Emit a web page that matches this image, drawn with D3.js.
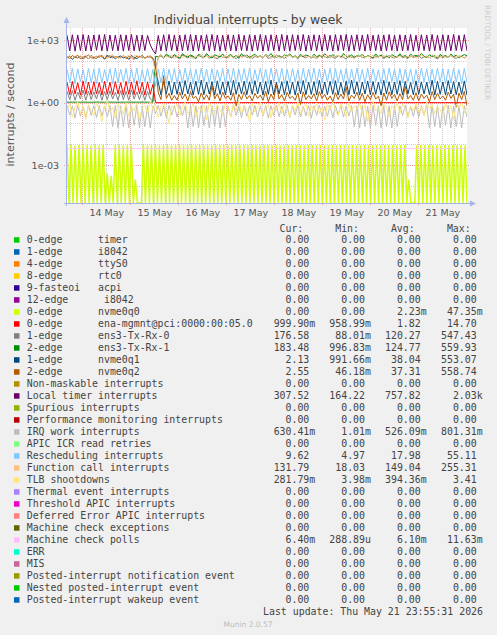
<!DOCTYPE html>
<html><head><meta charset="utf-8">
<script src="https://cdn.jsdelivr.net/npm/d3@7"></script>
<style>
html,body{margin:0;padding:0;background:#f0f0f0;}
svg{display:block;}
text{font-family:"DejaVu Sans",sans-serif;}
.mono{font-family:"DejaVu Sans Mono",monospace;white-space:pre;}
</style></head><body>
<svg id="c" width="497" height="635"></svg>
<script>
// ---------- DATA ----------
const labels = ["0-edge      timer","1-edge      i8042","4-edge      ttyS0","8-edge      rtc0","9-fasteoi   acpi","12-edge      i8042","0-edge      nvme0q0","0-edge      ena-mgmnt@pci:0000:00:05.0","1-edge      ens3-Tx-Rx-0","2-edge      ens3-Tx-Rx-1","1-edge      nvme0q1","2-edge      nvme0q2","Non-maskable interrupts","Local timer interrupts","Spurious interrupts","Performance monitoring interrupts","IRQ work interrupts","APIC ICR read retries","Rescheduling interrupts","Function call interrupts","TLB shootdowns","Thermal event interrupts","Threshold APIC interrupts","Deferred Error APIC interrupts","Machine check exceptions","Machine check polls","ERR","MIS","Posted-interrupt notification event","Nested posted-interrupt event","Posted-interrupt wakeup event"];
const colors = ["#00CC00","#0066B3","#FF8000","#FFCC00","#330099","#990099","#CCFF00","#FF0000","#808080","#008F00","#00487D","#B35A00","#B38F00","#6B006B","#8FB300","#B30000","#BEBEBE","#80FF80","#80C9FF","#FFC080","#FFE680","#AA80FF","#EE00CC","#FF8080","#666600","#FFBFFF","#00FFCC","#CC6699","#999900","#00CC00","#0066B3"];
const curVals = ["0.00","0.00","0.00","0.00","0.00","0.00","0.00","999.90m","176.58","183.48","2.13","2.55","0.00","307.52","0.00","0.00","630.41m","0.00","9.62","131.79","281.79m","0.00","0.00","0.00","0.00","6.40m","0.00","0.00","0.00","0.00","0.00"];
const minVals = ["0.00","0.00","0.00","0.00","0.00","0.00","0.00","958.99m","88.01m","996.83m","991.66m","46.18m","0.00","164.22","0.00","0.00","1.01m","0.00","4.97","18.03","3.98m","0.00","0.00","0.00","0.00","288.89u","0.00","0.00","0.00","0.00","0.00"];
const avgVals = ["0.00","0.00","0.00","0.00","0.00","0.00","2.23m","1.82","120.27","124.77","38.04","37.31","0.00","757.82","0.00","0.00","526.09m","0.00","17.98","149.04","394.36m","0.00","0.00","0.00","0.00","6.10m","0.00","0.00","0.00","0.00","0.00"];
const maxVals = ["0.00","0.00","0.00","0.00","0.00","0.00","47.35m","14.70","547.43","559.93","553.07","558.74","0.00","2.03k","0.00","0.00","801.31m","0.00","55.11","255.31","3.41","0.00","0.00","0.00","0.00","11.63m","0.00","0.00","0.00","0.00","0.00"];
const dayLabels = ["14 May","15 May","16 May","17 May","18 May","19 May","20 May","21 May"];
const yTickValues = [1e-3, 1e0, 1e3];
const yTickLabels = ["1e-03","1e+00","1e+03"];

// series values, evenly spaced over the week window
const nvme0q0 = [
.0088,0,.0091,0,.0086,0,.0090,0,.0087,0,
.0089,0,.0085,0,.0092,0,.0087,0,.0090,0,
.0004,0,.0003,0,.0088,0,.0091,0,.0086,0,
.0089,0,.0087,0,.0002,0,0,0,.0090,0,
.0086,0,.0089,0,.0092,0,.0087,0,.0088,0,
.0090,0,.0085,0,.0089,0,.0091,0,.0087,0,
.0088,0,.0092,0,.0086,0,.0090,0,.0087,0,
.0089,0,.0086,0,.0091,0,.0088,0,.0090,0,
.0087,0,.0092,0,.0085,0,.0089,0,.0091,0,
.0086,0,.0090,0,.0088,0,.0087,0,.0092,0,
.0089,0,.0085,0,.0091,0,.0088,0,.0086,0,
.0090,0,.0087,0,.0092,0,.0089,0,.0085,0,
.0091,0,.0088,0,.0086,0,.0090,0,.0087,0,
.0089,0,.0092,0,.0085,0,.0091,0,.0088,0,
.0086,0,.0090,0,.0087,0,.0089,0,.0092,0,
.0088,0,.0085,0,.0091,0,.0087,0,.0090,0,
.0089,0,.0092,0,.0086,0,.0088,0,.0091,0,
.0002,0,0,0,.0087,0,.0090,0,.0088,0,
.0092,0,.0086,0,.0089,0,.0087,0,.0091,0,
.0088,0,.0090,0,.0085,0,.0089,0,.0087,0];
const ena = [
9.5,2.4,10.5,2.6,9.0,2.3,11,2.5,9.8,2.4,
10.2,2.6,9.4,2.3,10.8,2.5,9.6,2.4,10.4,2.6,
9.2,2.3,10.6,2.5,9.9,2.4,11.2,2.6,9.5,2.3,
10.1,2.5,7.5,1.0,1.0,1.0,1.0,1.0,1.0,1.0,
1.0,1.0,1.0,1.0,1.0,1.0,1.0,1.0,1.0,1.0,
1.0,1.0,1.0,1.0,1.0,1.0,1.0,1.0,1.0,1.0,
1.0,1.0,1.0,1.0,1.0,1.0,1.0,1.0,1.0,1.0,
1.0,1.0,1.0,1.0,1.0,1.0,1.0,1.0,1.0,1.0,
1.0,1.0,1.0,1.0,1.0,1.0,1.0,1.0,1.0,1.0,
1.0,1.0,1.0,1.0,1.0,1.0,1.0,1.0,1.0,1.0,
1.0,1.0,1.0,1.0,1.0,1.0,1.0,1.0,1.0,1.0,
1.0,1.0,1.0,1.0,1.0,1.0,1.0,1.0,1.0,1.0,
1.0,1.0,1.0,1.0,1.0,1.0,1.0,1.0,1.0,1.0,
1.0,1.0,1.0,1.0,1.0,1.0,1.0,1.0,1.0,1.0,
1.0,1.0,1.0,1.0,1.0,1.0,1.0,1.0,1.0,1.0];
const txrx0 = [
3.5,1.4,3.8,1.3,3.2,1.5,4.0,1.3,3.6,1.4,
3.3,1.5,3.9,1.3,3.4,1.4,3.7,1.5,3.1,1.3,
3.8,1.4,3.5,1.3,4.1,1.5,3.3,1.4,3.6,1.3,
3.4,1.5,1.2,40,150,175,135,190,160,140,
180,150,125,195,165,140,175,155,130,185,
160,145,190,135,170,155,125,180,150,165,
140,185,155,130,175,160,195,145,170,135,
165,150,180,140,190,130,160,175,145,185,
155,135,170,190,150,165,125,180,160,140,
175,145,160,130,185,155,170,140,195,150,
135,180,165,150,125,190,145,170,160,175,
150,140,185,160,135,175,155,195,130,165,
180,155,140,170,190,145,160,130,175,150,
165,185,135,155,170,140,190,150,125,180,
145,170,160,185,150,135,175,165,140,175];
const txrx1 = [
1.05,1.05,1.06,1.05,1.05,1.05,1.06,1.05,1.05,1.05,
1.05,1.06,1.05,1.05,1.05,1.05,1.06,1.05,1.05,1.05,
1.05,1.05,1.05,1.06,1.05,1.05,1.05,1.05,1.06,1.05,
1.05,1.06,1.05,170,160,200,145,215,175,150,
205,165,140,225,180,155,195,170,135,210,
185,150,230,165,140,200,175,155,220,145,
170,210,150,185,135,225,160,195,145,180,
215,155,175,140,205,165,230,150,190,160,
145,200,170,220,155,180,140,210,165,195,
175,140,215,160,190,150,225,170,145,205,
160,190,145,230,170,155,200,140,185,165,
210,150,180,165,140,220,160,195,150,175,
140,205,170,150,225,160,185,145,215,170,
190,155,230,170,145,200,165,180,140,210,
165,185,150,220,160,195,140,175,205,180];
const nvme0q1 = [
140,175,120,160,190,130,155,170,125,185,
150,135,180,160,125,195,145,170,130,160,
175,140,165,120,185,150,130,170,155,140,
165,150,130,40,9.5,2.4,10.5,2.6,11,2.3,
9.8,2.5,10.2,2.4,11.5,2.6,9.4,2.3,10.8,2.5,
12,2.4,9.6,2.6,10.4,2.3,11.2,2.5,9.9,2.4,
10.6,2.3,11.8,2.5,9.3,2.6,10.9,2.4,10.1,2.5,
11.4,2.6,9.7,2.3,10.5,2.5,12.2,2.4,9.5,2.6,
10.3,2.4,11.1,2.5,9.8,2.3,10.7,2.6,11.6,2.4,
9.6,2.5,10.4,2.3,11.9,2.6,9.9,2.4,10.6,2.5,
11.3,2.3,9.4,2.5,10.8,2.4,12.1,2.6,10.2,2.3,
9.7,2.6,11.0,2.4,10.5,2.5,9.5,2.3,11.7,2.6,
10.1,2.4,9.8,2.5,11.4,2.3,10.6,2.6,9.3,2.4,
11.2,2.5,10.0,2.6,9.6,2.4,12.0,2.3,10.7,2.5,
9.9,2.3,11.5,2.6,10.3,2.4,9.7,2.5,11.1,2.3];
const nvme0q2 = [
165,130,185,150,140,175,125,160,195,145,
135,170,150,190,125,160,180,140,165,150,
145,185,130,165,155,120,175,150,190,135,
160,175,140,60,3.0,1.4,20,1.6,2.8,1.3,
2.2,1.3,3.1,1.5,2.6,1.2,3.4,1.6,2.0,1.1,
2.9,1.4,2.4,1.3,6.5,1.5,2.7,1.2,3.2,1.6,
2.1,1.3,3.0,0.7,2.5,1.4,3.3,1.5,2.2,1.2,
2.8,1.6,2.3,1.3,3.5,1.1,2.6,1.4,7.0,1.5,
2.4,1.2,3.1,1.6,2.0,1.3,2.9,0.8,3.3,1.4,
2.2,1.5,2.7,1.2,3.4,1.6,2.5,1.3,2.1,1.1,
3.0,1.4,2.6,1.5,5.5,1.2,2.3,1.6,3.2,1.3,
2.8,1.1,2.4,1.4,3.1,1.5,2.0,0.7,2.9,1.3,
3.3,1.6,2.5,1.2,2.7,1.4,6.0,1.5,2.2,1.3,
3.0,1.2,2.6,1.6,2.3,1.1,3.4,1.4,2.8,1.5,
2.1,1.3,3.2,1.6,2.5,0.6,2.9,1.4,3.5,0.7];
const localTimer = [
1750,310,1850,300,1800,320,1900,305,1750,300,
1800,330,1850,310,1900,300,1800,320,1750,310,
1850,300,1800,320,1900,310,1750,300,1800,320,
1700,600,330,220,1700,310,1850,300,1900,320,
1800,300,1750,310,1850,320,1900,300,1800,310,
1750,320,1850,300,1900,310,1800,300,1750,320,
1850,310,1800,300,1900,320,1750,310,1850,300,
1800,320,1900,300,1750,310,1850,320,1800,300,
1900,310,1750,300,1850,320,1800,310,1900,300,
1750,320,1850,310,1800,300,1900,320,1750,300,
1850,310,1800,320,1900,300,1750,310,1850,320,
1800,300,1900,310,1750,320,1850,300,1800,310,
1900,320,1750,300,1850,310,1800,320,1900,300,
1750,310,1850,320,1800,300,1900,310,1750,320,
1850,300,1800,310,1900,320,1750,300,1850,310];
const irqWork = [
.72,.25,.70,.18,.75,.22,.68,.20,.73,.24,
.70,.19,.74,.23,.69,.21,.72,.07,.75,.06,
.70,.07,.73,.06,.71,.08,.74,.06,.69,.07,
.72,.06,.70,.30,.73,.22,.68,.19,.74,.25,
.71,.20,.75,.23,.69,.06,.72,.07,.70,.06,
.74,.08,.71,.06,.73,.07,.69,.06,.72,.07,
.70,.21,.75,.24,.68,.19,.73,.22,.71,.25,
.74,.20,.69,.23,.72,.18,.70,.24,.75,.21,
.68,.22,.73,.19,.71,.25,.74,.20,.69,.23,
.72,.18,.70,.24,.75,.21,.68,.22,.73,.19,
.71,.25,.74,.20,.69,.23,.72,.07,.70,.06,
.75,.07,.68,.06,.73,.08,.71,.06,.74,.07,
.69,.06,.72,.07,.70,.24,.75,.21,.68,.22,
.73,.19,.71,.25,.74,.06,.69,.07,.72,.06,
.70,.08,.75,.06,.68,.07,.73,.06,.71,.20];
const rescheduling = [
40,9,45,8,42,10,38,8,44,9,
41,8,46,9,39,10,43,8,45,9,
40,10,44,8,42,9,46,8,38,10,
43,9,40,6,42,9,45,8,41,10,
44,8,39,9,46,10,42,8,40,9,
45,10,41,8,43,9,38,10,44,8,
42,9,46,8,40,10,43,9,45,8,
39,10,44,9,41,8,46,10,42,9,
45,8,40,9,43,10,38,8,44,9,
41,10,46,8,42,9,40,10,45,8,
43,9,39,10,44,8,41,9,46,10,
40,8,45,9,42,10,38,8,43,9,
46,10,41,8,44,9,40,10,42,8,
39,9,45,10,43,8,41,9,46,10,
42,8,40,9,44,10,39,8,45,9];
const functionCall = [
150,185,130,170,200,140,160,190,125,175,
165,140,195,150,180,130,170,205,145,160,
135,180,155,195,140,170,190,150,165,130,
185,150,120,25,160,190,140,175,150,200,
130,165,185,145,175,200,150,135,180,160,
195,140,170,155,185,130,160,205,145,175,
150,190,135,170,200,145,165,180,130,160,
185,150,175,140,195,160,130,170,190,150,
140,180,160,200,145,175,135,165,195,155,
170,145,190,130,160,185,150,200,140,175,
155,195,140,170,185,150,165,130,180,160,
190,140,175,155,200,135,170,160,185,145,
160,185,130,175,150,195,145,170,155,190,
135,170,190,150,165,140,200,160,175,145,
180,150,165,195,140,175,155,185,130,170];
const tlb = [
.45,.9,.2,.6,1.1,.3,.7,.15,.8,.4,
.25,.95,.5,.12,.7,1.3,.35,.6,.18,.85,
.5,.3,1.0,.22,.65,.4,.9,.14,.55,.75,
.3,1.2,.45,.8,.2,.6,.95,.35,.1,.7,
.5,.85,.25,.6,1.1,.3,.45,.9,.2,.65,
.4,.75,.15,1.0,.55,.3,.8,.45,.25,.95,
.6,.2,.85,.4,1.2,.3,.7,.5,.12,.9,
.35,.65,1.05,.25,.55,.8,.18,.7,.45,1.0,
.3,.9,.5,.2,.75,.4,1.15,.28,.6,.85,
.22,.7,.45,.95,.3,.6,.15,.8,.5,1.1,
.4,.25,.85,.55,.2,1.0,.35,.7,.48,.9,
.28,.8,.12,.65,1.2,.4,.55,.3,.95,.6,
.2,.75,.45,1.05,.3,.85,.5,.18,.7,.4,
.9,.35,.6,.22,1.15,.5,.8,.3,.65,.45,
.25,.95,.4,.7,.15,.85,.55,1.0,.32,.6];
const mcPolls = [
.0061,.0060,.0062,.0059,.0061,.0063,.0060,.0061,.0062,.0060,
.0059,.0061,.0062,.0060,.0063,.0061,.0060,.0059,.0062,.0061,
.0060,.0062,.0061,.0059,.0060,.0062,.0063,.0061,.0060,.0061,
.0062,.0060,.0061,.0059,.0062,.0061,.0060,.0063,.0061,.0060,
.0061,.0062,.0060,.0061,.0059,.0062,.0061,.0060,.0063,.0061,
.0060,.0061,.0062,.0060,.0061,.0059,.0062,.0061,.0060,.0062,
.0063,.0061,.0060,.0062,.0061,.0059,.0060,.0062,.0061,.0060,
.0061,.0060,.0063,.0061,.0062,.0060,.0059,.0061,.0062,.0061,
.0060,.0062,.0061,.0060,.0063,.0061,.0062,.0059,.0060,.0061,
.0062,.0061,.0060,.0062,.0061,.0063,.0060,.0061,.0059,.0062,
.0061,.0060,.0062,.0061,.0060,.0062,.0063,.0060,.0061,.0059,
.0060,.0062,.0061,.0059,.0062,.0060,.0061,.0063,.0060,.0061,
.0062,.0060,.0059,.0061,.0062,.0061,.0060,.0062,.0061,.0063,
.0061,.0062,.0060,.0063,.0061,.0060,.0062,.0059,.0061,.0060,
.0060,.0061,.0062,.0060,.0059,.0061,.0063,.0062,.0061,.0064];

const plotted = [
  {idx:6, values:nvme0q0},
  {idx:7, values:ena},
  {idx:8, values:txrx0},
  {idx:9, values:txrx1},
  {idx:10, values:nvme0q1},
  {idx:11, values:nvme0q2},
  {idx:13, values:localTimer},
  {idx:16, values:irqWork},
  {idx:18, values:rescheduling},
  {idx:19, values:functionCall},
  {idx:20, values:tlb},
  {idx:25, values:mcPolls}
];

// ---------- LAYOUT ----------
const svg = d3.select("#c");
const X0 = 67, X1 = 467, Y0 = 28, Y1 = 203;
const tStart = Date.UTC(2026,4,13,16,20);
const tEnd = tStart + 200*3600e3;
const x = d3.scaleUtc().domain([new Date(tStart), new Date(tEnd)]).range([X0, X1]);
const yMin = Math.pow(10,-4.83), yMax = Math.pow(10,3.59);
const y = d3.scaleLog().domain([yMin, yMax]).range([Y1, Y0]);

svg.append("rect").attr("x",0).attr("y",0).attr("width",497).attr("height",635).attr("fill","#f0f0f0");
svg.append("rect").attr("x",X0).attr("y",Y0).attr("width",X1-X0).attr("height",Y1-Y0).attr("fill","#ffffff");

// grid (minor first, then major)
const grid = svg.append("g").attr("shape-rendering","crispEdges");
const hours6 = d3.utcHour.every(6).range(new Date(tStart), new Date(tEnd)).filter(d => x(d) < X1 - 1.5);
const minorX = hours6.filter(d => d.getUTCHours() !== 0);
const majorX = hours6.filter(d => d.getUTCHours() === 0);
grid.selectAll("line.minx").data(minorX).join("line").attr("class","minx")
  .attr("x1", d => Math.round(x(d))+0.5).attr("x2", d => Math.round(x(d))+0.5)
  .attr("y1", Y0).attr("y2", Y1)
  .attr("stroke", "#cfcfcf").attr("stroke-width",1).attr("stroke-dasharray","1,1");
const decades = d3.range(-4, 4).map(e => Math.pow(10, e));
const isMajorY = v => yTickValues.some(t => Math.abs(Math.log10(t) - Math.log10(v)) < 1e-6);
grid.selectAll("line.miny").data(decades.filter(v => !isMajorY(v))).join("line").attr("class","miny")
  .attr("x1", X0).attr("x2", X1).attr("y1", d => Math.round(y(d))+0.5).attr("y2", d => Math.round(y(d))+0.5)
  .attr("stroke", "#cfcfcf").attr("stroke-width",1).attr("stroke-dasharray","1,1");
grid.selectAll("line.majx").data(majorX).join("line").attr("class","majx")
  .attr("x1", d => Math.round(x(d))+0.5).attr("x2", d => Math.round(x(d))+0.5)
  .attr("y1", Y0).attr("y2", Y1+3)
  .attr("stroke", "#f4a0a0").attr("stroke-width",1).attr("stroke-dasharray","1,1");
grid.selectAll("line.majy").data(decades.filter(isMajorY)).join("line").attr("class","majy")
  .attr("x1", X0-3).attr("x2", X1+2).attr("y1", d => Math.round(y(d))+0.5).attr("y2", d => Math.round(y(d))+0.5)
  .attr("stroke", "#f4a0a0").attr("stroke-width",1).attr("stroke-dasharray","1,1");

// series
svg.append("clipPath").attr("id","clip").append("rect").attr("x",X0).attr("y",Y0-1).attr("width",X1-X0).attr("height",Y1-Y0+1);
const lines = svg.append("g").attr("clip-path","url(#clip)");
plotted.forEach(s => {
  const n = s.values.length;
  const pts = s.values.map((v,i) => [new Date(tStart + i*(tEnd-tStart)/(n-1)), v]);
  const line = d3.line().x(d => x(d[0])).y(d => y(d[1] > yMin ? d[1] : yMin));
  lines.append("path").attr("d", line(pts)).attr("fill","none")
    .attr("stroke", colors[s.idx]).attr("stroke-width", s.idx === 6 ? 1.5 : 1);
});

// axes
const axisCol = "#a4b4ea";
svg.append("line").attr("x1",X0-0.5).attr("x2",X0-0.5).attr("y1",Y1+3).attr("y2",Y0-6).attr("stroke",axisCol).attr("shape-rendering","crispEdges");
svg.append("line").attr("x1",X0-3).attr("x2",X1+4).attr("y1",Y1+0.5).attr("y2",Y1+0.5).attr("stroke",axisCol).attr("shape-rendering","crispEdges");
svg.append("path").attr("d",`M${X0-3.5},${Y0-5} L${X0+2.5},${Y0-5} L${X0-0.5},${Y0-11} Z`).attr("fill",axisCol);
svg.append("path").attr("d",`M${X1+3},${Y1-2.5} L${X1+3},${Y1+3.5} L${X1+9},${Y1+0.5} Z`).attr("fill",axisCol);

const yAxis = d3.axisLeft(y).tickValues(yTickValues).tickSize(0).tickPadding(8)
  .tickFormat((d,i) => yTickLabels[i]);
const gy = svg.append("g").attr("transform",`translate(${X0},0)`).call(yAxis);
gy.select(".domain").remove();
gy.selectAll("text").attr("font-family","DejaVu Sans").attr("font-size","9.5px").attr("fill","#555");

const dayNoons = d3.utcDay.range(new Date(tStart), new Date(tEnd)).map(d => new Date(+d + 12*3600e3)).filter(d => +d < tEnd);
const xAxis = d3.axisBottom(x).tickValues(dayNoons).tickSize(0).tickPadding(6.5)
  .tickFormat((d,i) => dayLabels[i]);
const gx = svg.append("g").attr("transform",`translate(0,${Y1})`).call(xAxis);
gx.select(".domain").remove();
gx.selectAll("text").attr("font-family","DejaVu Sans").attr("font-size","9.5px").attr("fill","#555");

// titles
svg.append("text").attr("x",248).attr("y",23.5).attr("text-anchor","middle")
  .attr("font-size","12.4px").attr("fill","#444").text("Individual interrupts - by week");
svg.append("text").attr("transform","translate(10.5,114.5) rotate(-90)").attr("text-anchor","middle")
  .attr("dominant-baseline","central").attr("font-size","11px").attr("fill","#555").text("interrupts / second");
svg.append("text").attr("transform","translate(485,5) rotate(90)").attr("text-anchor","start")
  .attr("font-size","7.4px").attr("fill","#cccccc").text("RRDTOOL / TOBI OETIKER");

// legend
const FS = "9.9px";
const colEnds = [309.3, 365, 420.7, 476.7];
const headers = ["Cur:","Min:","Avg:","Max:"];
headers.forEach((h,i) => {
  svg.append("text").attr("class","mono").attr("x",colEnds[i]-6).attr("y",231.5)
    .attr("text-anchor","end").attr("font-size",FS).attr("fill","#444").text(h);
});
const cols = [curVals, minVals, avgVals, maxVals];
labels.forEach((lab,i) => {
  const base = 242.7 + 12*i;
  svg.append("rect").attr("x",14).attr("y",base-5.5).attr("width",5.5).attr("height",5.5).attr("fill",colors[i]);
  svg.append("text").attr("class","mono").attr("x",26.7).attr("y",base)
    .attr("font-size",FS).attr("fill","#444").text(lab);
  cols.forEach((arr,c) => {
    const s = arr[i];
    const m = s.match(/^([0-9.]+)([a-zA-Z]?)$/);
    svg.append("text").attr("class","mono").attr("x",colEnds[c]).attr("y",base)
      .attr("text-anchor","end").attr("font-size",FS).attr("fill","#444").text(m[1]);
    if (m[2]) svg.append("text").attr("class","mono").attr("x",colEnds[c]).attr("y",base)
      .attr("font-size",FS).attr("fill","#444").text(m[2]);
  });
});
svg.append("text").attr("class","mono").attr("x",483).attr("y",615.2).attr("text-anchor","end")
  .attr("font-size",FS).attr("fill","#444").text("Last update: Thu May 21 23:55:31 2026");
svg.append("text").attr("x",248).attr("y",627).attr("text-anchor","middle")
  .attr("font-size","7.5px").attr("fill","#bbbbbb").text("Munin 2.0.57");
</script></body></html>
